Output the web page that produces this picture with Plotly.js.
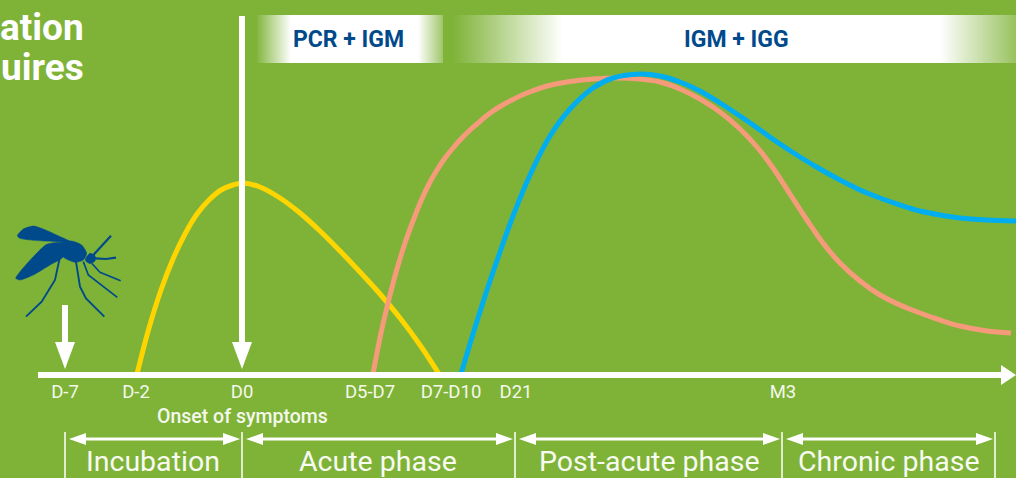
<!DOCTYPE html>
<html><head><meta charset="utf-8">
<script src="https://cdn.plot.ly/plotly-3.0.1.min.js"></script>
<style>html,body{margin:0;padding:0;background:#7fb338;overflow:hidden}#c{width:1016px;height:478px}</style>
</head><body><div id="c"></div>
<script>
// Data: time position along the axis, response level above the axis line
const yellowX=[137,149,161,173,185,197,209,221,233,243,260,280,300,320,340,360,380,400,420,439];
const yellowY=[0,46,84,115,140,160,174,184,189,191,187,176,161,143,123,102,80,56,29,0];
const salmonX=[373,381,389,397,405,413,421,429,437,445,453,461,469,477,485,493,501,510,527,547,567,593,617,640,660,680,700,720,740,757,773,790,807,823,840,860,880,900,920,940,960,987,1011];
const salmonY=[0,41,75,105,131,153,173,190,204,216,226,235,243,250,257,263,268,273,281,288,292,295,296,295,292,285,275,262,245,227,206,180,154,131,111,93,79,69,61,54,48,43,41];
const blueX=[461,473,487,500,513,530,550,570,593,613,640,660,680,700,720,740,760,780,800,820,840,860,880,900,920,940,960,987,1016];
const blueY=[0,40,84,122,158,199,238,265,286,296,300,298,292,283,271,258,244,230,217,205,194,184,176,169,163,159,156,154,153];
const tickPos=[65,136,242,370,451,516,783];
const tickText=['D-7','D-2','D0','D5-D7','D7-D10','D21','M3'];
const phaseEdges=[65,242,515,782,995];
const phaseNames=['Incubation','Acute phase','Post-acute phase','Chronic phase'];
const phaseCentres=[153,378,649,889];

const GREEN='#7fb338',WHITE='#ffffff',NAVY='#004a8c';
const B=374, Y=p=>B-p; // picture row to level
const t=[];
function poly(xs,ps,color){t.push({x:xs,y:ps.map(Y),mode:'lines',fill:'toself',fillcolor:color,line:{width:0,color:color},hoverinfo:'skip'});}
function line(xs,ps,color,w){t.push({x:xs,y:ps.map(Y),mode:'lines',line:{color:color,width:w},hoverinfo:'skip'});}

// gradient bands
function band(x0,x1,stops){t.push({x:[x0,x1,x1,x0,x0],y:[15,15,63,63,15].map(Y),mode:'lines',fill:'toself',line:{width:0},hoverinfo:'skip',
  fillgradient:{type:'horizontal',colorscale:stops}});}
const w=a=>`rgba(255,255,255,${a})`;
band(257,443,[[0,w(0.04)],[0.183,w(1)],[0.866,w(1)],[1,w(0.25)]]);
band(453,1016,[[0,w(0)],[0.195,w(1)],[0.865,w(1)],[1,w(0.2)]]);

// curves
const curve=(x,y,c)=>t.push({x:x,y:y,mode:'lines',line:{color:c,width:5,shape:'spline',smoothing:1},hoverinfo:'skip'});
curve(yellowX,yellowY,'#ffd500');
curve(salmonX,salmonY,'#f59b7c');
curve(blueX,blueY,'#00aeef');

// main axis and arrows
line([38,1002],[375,375],WHITE,6);
poly([1001,1016,1001,1001],[365,375,385,365],WHITE);
line([65,65],[305,345],WHITE,6);
poly([55,75,65,55],[342,342,369,342],WHITE);
line([242,242],[16,345],WHITE,6);
poly([232,252,242,232],[342,342,369,342],WHITE);

// phase brackets
phaseEdges.forEach(x=>line([x,x],[432,478],WHITE,1.5));
for(let i=0;i<phaseEdges.length-1;i++){
  const a=phaseEdges[i]+4,b=phaseEdges[i+1]-2;
  line([a+10,b-10],[439,439],WHITE,3);
  poly([a,a+17,a+17,a],[439,433,445,439],WHITE);
  poly([b,b-17,b-17,b],[439,433,445,439],WHITE);
}

// mosquito (from a 3x sketch)
const mx=a=>a.map(v=>v/3), my=a=>a.map(v=>215+v/3);
function smooth(xs,ps,color){t.push({x:mx(xs),y:my(ps).map(Y),mode:'lines',fill:'toself',fillcolor:color,line:{width:0.5,color:color,shape:'spline',smoothing:0.6},hoverinfo:'skip'});}
smooth([52,70,100,130,170,215,170,100,60,52],[62,42,33,42,60,82,80,76,70,62],NAVY);
smooth([185,140,100,60,47,60,100,150,190,185],[84,88,125,170,190,195,180,150,125,84],NAVY);
smooth([180,215,245,260,250,225,195,180,180],[85,78,90,115,135,142,130,115,85],NAVY);
smooth([257,270,285,285,270,257,257],[130,115,122,138,146,138,130],NAVY);
[[[280,333],[120,62],2.2],[[285,318,348],[130,132,128],2.2],[[275,300,362],[145,172,197],1.6],
 [[180,165,125,78],[125,195,260,305],1.9],[[228,240,258,313],[140,215,250,305],1.9],[[250,265,352],[140,180,247],1.7]]
 .forEach(l=>line(mx(l[0]),my(l[1]),NAVY,l[2]));

const annos=[];
function label(x,p,text,size,color,anchor,weight){annos.push({x:x,y:Y(p),text:text,showarrow:false,xanchor:anchor||'center',yanchor:'middle',
  font:{family:'Roboto',size:size,color:color,weight:weight||400}});}
label(86,27,'ation',37,WHITE,'right',700);
label(86,67,'uires',37,WHITE,'right',700);
label(348,39,'PCR + IGM',23,NAVY,'center',700);
label(736,39,'IGM + IGG',23,NAVY,'center',700);
label(242,416,'Onset of symptoms',19.5,'#f4f8ec','center',500);
phaseNames.forEach((n,i)=>label(phaseCentres[i],461,n,28.5,'#f8fbf2'));

Plotly.newPlot('c',t,{
  width:1016,height:478,margin:{l:0,r:0,t:0,b:0},paper_bgcolor:GREEN,plot_bgcolor:GREEN,showlegend:false,
  xaxis:{range:[0,1016],domain:[0,1],anchor:'free',position:104/478,showgrid:false,zeroline:false,showline:false,ticks:'',
    tickmode:'array',tickvals:tickPos,ticktext:tickText,tickangle:0,ticklabelstandoff:4,tickfont:{family:'Roboto',size:18.5,color:'#f4f8ec'},fixedrange:true},
  yaxis:{range:[-104,374],domain:[0,1],visible:false,fixedrange:true},
  annotations:annos
},{staticPlot:true,displayModeBar:false});
</script></body></html>
